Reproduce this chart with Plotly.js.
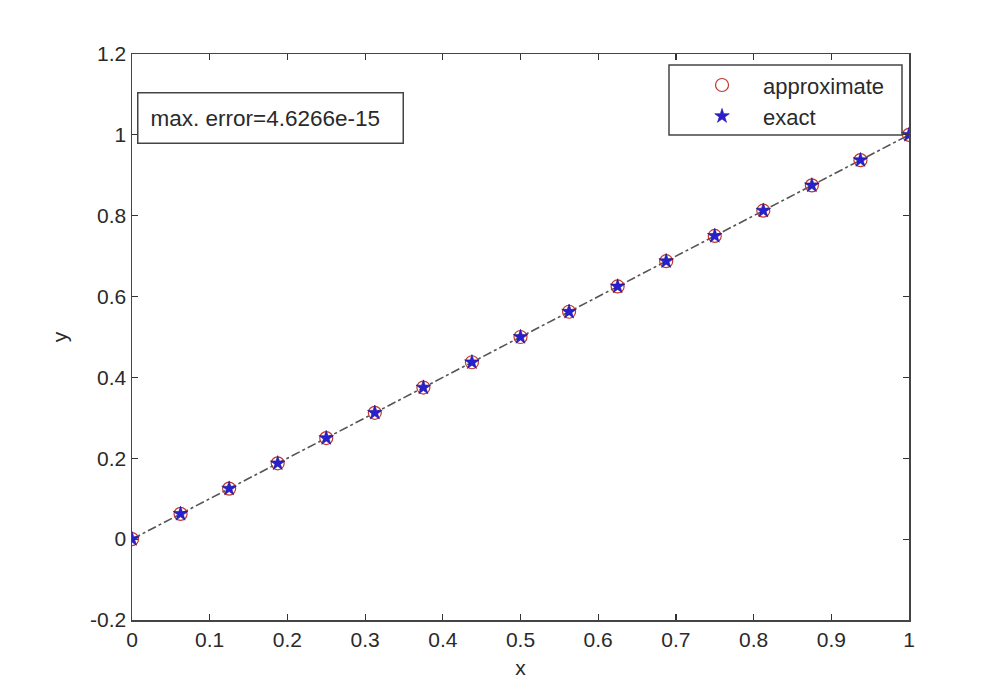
<!DOCTYPE html>
<html>
<head>
<meta charset="utf-8">
<script src="https://cdn.plot.ly/plotly-3.0.1.min.js"></script>
<style>html,body{margin:0;padding:0;background:#fff;}#chart{width:1006px;height:697px;}</style>
</head>
<body>
<div id="chart"></div>
<script>
const xNodes = [0, 0.0625, 0.125, 0.1875, 0.25, 0.3125, 0.375, 0.4375, 0.5, 0.5625, 0.625, 0.6875, 0.75, 0.8125, 0.875, 0.9375, 1];
const yApprox = [0, 0.0625, 0.125, 0.1875, 0.25, 0.3125, 0.375, 0.4375, 0.5, 0.5625, 0.625, 0.6875, 0.75, 0.8125, 0.875, 0.9375, 1];
const yExact = [0, 0.0625, 0.125, 0.1875, 0.25, 0.3125, 0.375, 0.4375, 0.5, 0.5625, 0.625, 0.6875, 0.75, 0.8125, 0.875, 0.9375, 1];
const seriesNames = ["approximate", "exact"];
const errorLabel = "max. error=4.6266e-15";
const xTicks = [0, 0.1, 0.2, 0.3, 0.4, 0.5, 0.6, 0.7, 0.8, 0.9, 1];
const xTickText = ["0", "0.1", "0.2", "0.3", "0.4", "0.5", "0.6", "0.7", "0.8", "0.9", "1"];
const yTicks = [-0.2, 0, 0.2, 0.4, 0.6, 0.8, 1, 1.2];
const yTickText = ["-0.2", "0", "0.2", "0.4", "0.6", "0.8", "1", "1.2"];

const FONT = "Liberation Sans, Arial, Helvetica, sans-serif";
const INK = "#2a2a2a";

const traces = [
  {x: xNodes, y: yExact, mode: "lines", showlegend: false, hoverinfo: "skip",
   line: {color: "#555555", width: 1.6, dash: "dashdot"}},
  {x: xNodes, y: yApprox, mode: "markers", name: seriesNames[0], legend: "legend",
   marker: {symbol: "circle-open", size: 13, color: "#c0392b", line: {width: 1.2, color: "#b83a3a"}}},
  {x: xNodes, y: yExact, mode: "markers", name: seriesNames[1], legend: "legend2",
   marker: {symbol: "star", size: 11, color: "#2a1fd0", line: {width: 0.6, color: "#1a1090"}}}
];

const layout = {
  width: 1006, height: 697,
  margin: {l: 132, r: 97, t: 54, b: 77},
  paper_bgcolor: "#ffffff", plot_bgcolor: "#ffffff",
  font: {family: FONT, size: 21, color: INK},
  showlegend: true,
  xaxis: {
    range: [0, 1], tickvals: xTicks, ticktext: xTickText, ticks: "inside", ticklen: 6, tickwidth: 1.2, tickcolor: "#333",
    mirror: "ticks", showline: true, linecolor: "#444", linewidth: 1.5, showgrid: false, zeroline: false,
    tickfont: {size: 21, color: INK, family: FONT},
    title: {text: "x", font: {size: 21, color: INK, family: FONT}, standoff: 10}
  },
  yaxis: {
    range: [-0.2, 1.2], tickvals: yTicks, ticktext: yTickText, ticks: "inside", ticklen: 6, tickwidth: 1.2, tickcolor: "#333",
    mirror: "ticks", showline: true, linecolor: "#444", linewidth: 1.5, showgrid: false, zeroline: false,
    tickfont: {size: 21, color: INK, family: FONT},
    title: {text: "y", font: {size: 21, color: INK, family: FONT}, standoff: 17}
  },
  legend: {x: 0.7066, y: 0.982, xanchor: "left", yanchor: "top", bgcolor: "rgba(0,0,0,0)", itemwidth: 72,
           borderwidth: 0, font: {size: 22, color: INK, family: FONT}},
  legend2: {x: 0.7066, y: 0.927, xanchor: "left", yanchor: "top", bgcolor: "rgba(0,0,0,0)", itemwidth: 72,
            borderwidth: 0, font: {size: 22, color: INK, family: FONT}},
  shapes: [
    {type: "rect", xref: "paper", yref: "paper",
     x0: (669 - 132) / 777, x1: (902 - 132) / 777, y0: (620 - 135) / 566, y1: (620 - 65) / 566,
     line: {color: "#444", width: 1.5}, fillcolor: "rgba(255,255,255,0)", layer: "above"}
  ],
  annotations: [
    {xref: "paper", yref: "paper", x: (137 - 132) / 777, y: (620 - 92) / 566, xanchor: "left", yanchor: "top",
     text: errorLabel, showarrow: false, align: "left", width: 240,
     font: {size: 22.5, color: INK, family: FONT},
     bordercolor: "#444", borderwidth: 1.5, borderpad: 12, bgcolor: "#ffffff"}
  ]
};

Plotly.newPlot("chart", traces, layout, {displayModeBar: false, staticPlot: true});
</script>
</body>
</html>
